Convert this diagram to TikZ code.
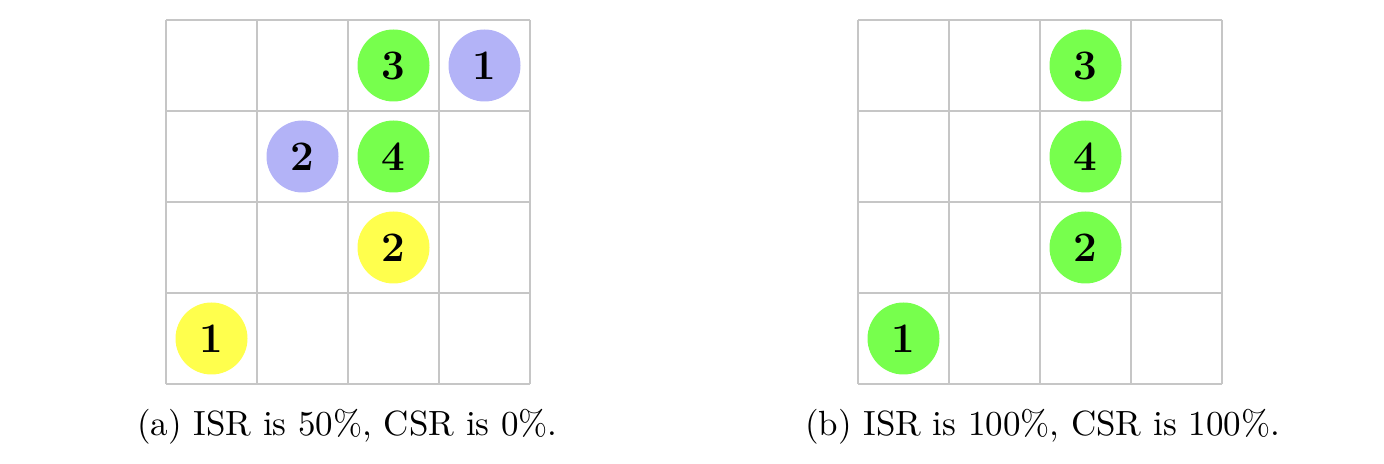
\documentclass[tikz,border=0pt]{standalone}
\begin{document}
\begin{tikzpicture}[x=0.2857pt,y=-0.2857pt,
  gridline/.style={draw=gray!45,line width=0.4pt},
  dot/.style={circle,minimum size=72*0.2857pt,inner sep=0pt,font=\large\bfseries},
  gdot/.style={dot,fill=agreen},
  bdot/.style={dot,fill=alav},
  ydot/.style={dot,fill=ayel},
  captext/.style={font=\normalsize,inner sep=0pt}]
\definecolor{agreen}{RGB}{119,255,77}
\definecolor{alav}{RGB}{179,179,247}
\definecolor{ayel}{RGB}{255,255,77}
\useasboundingbox (0,0) rectangle (1384,464);
% grids
\foreach \i in {0,...,4}{
  \draw[gridline] (166+91*\i,20) -- (166+91*\i,384);
  \draw[gridline] (166,20+91*\i) -- (530,20+91*\i);
  \draw[gridline] (858+91*\i,20) -- (858+91*\i,384);
  \draw[gridline] (858,20+91*\i) -- (1222,20+91*\i);
}
% (a)
\node[gdot] (a3) at (393.5,65.5) {3};
\node[bdot] (ab1) at (484.5,65.5) {1};
\node[bdot] (ab2) at (302.5,156.5) {2};
\node[gdot] (a4) at (393.5,156.5) {4};
\node[ydot] (ay2) at (393.5,247.5) {2};
\node[ydot] (ay1) at (211.5,338.5) {1};
% (b)
\node[gdot] (b3) at (1085.5,65.5) {3};
\node[gdot] (b4) at (1085.5,156.5) {4};
\node[gdot] (b2) at (1085.5,247.5) {2};
\node[gdot] (b1) at (903.5,338.5) {1};
% captions
\node[captext] (capa) at (347.5,427) {(a) ISR is 50\%, CSR is 0\%.};
\node[captext] (capb) at (1042.5,427) {(b) ISR is 100\%, CSR is 100\%.};
\end{tikzpicture}
\end{document}
